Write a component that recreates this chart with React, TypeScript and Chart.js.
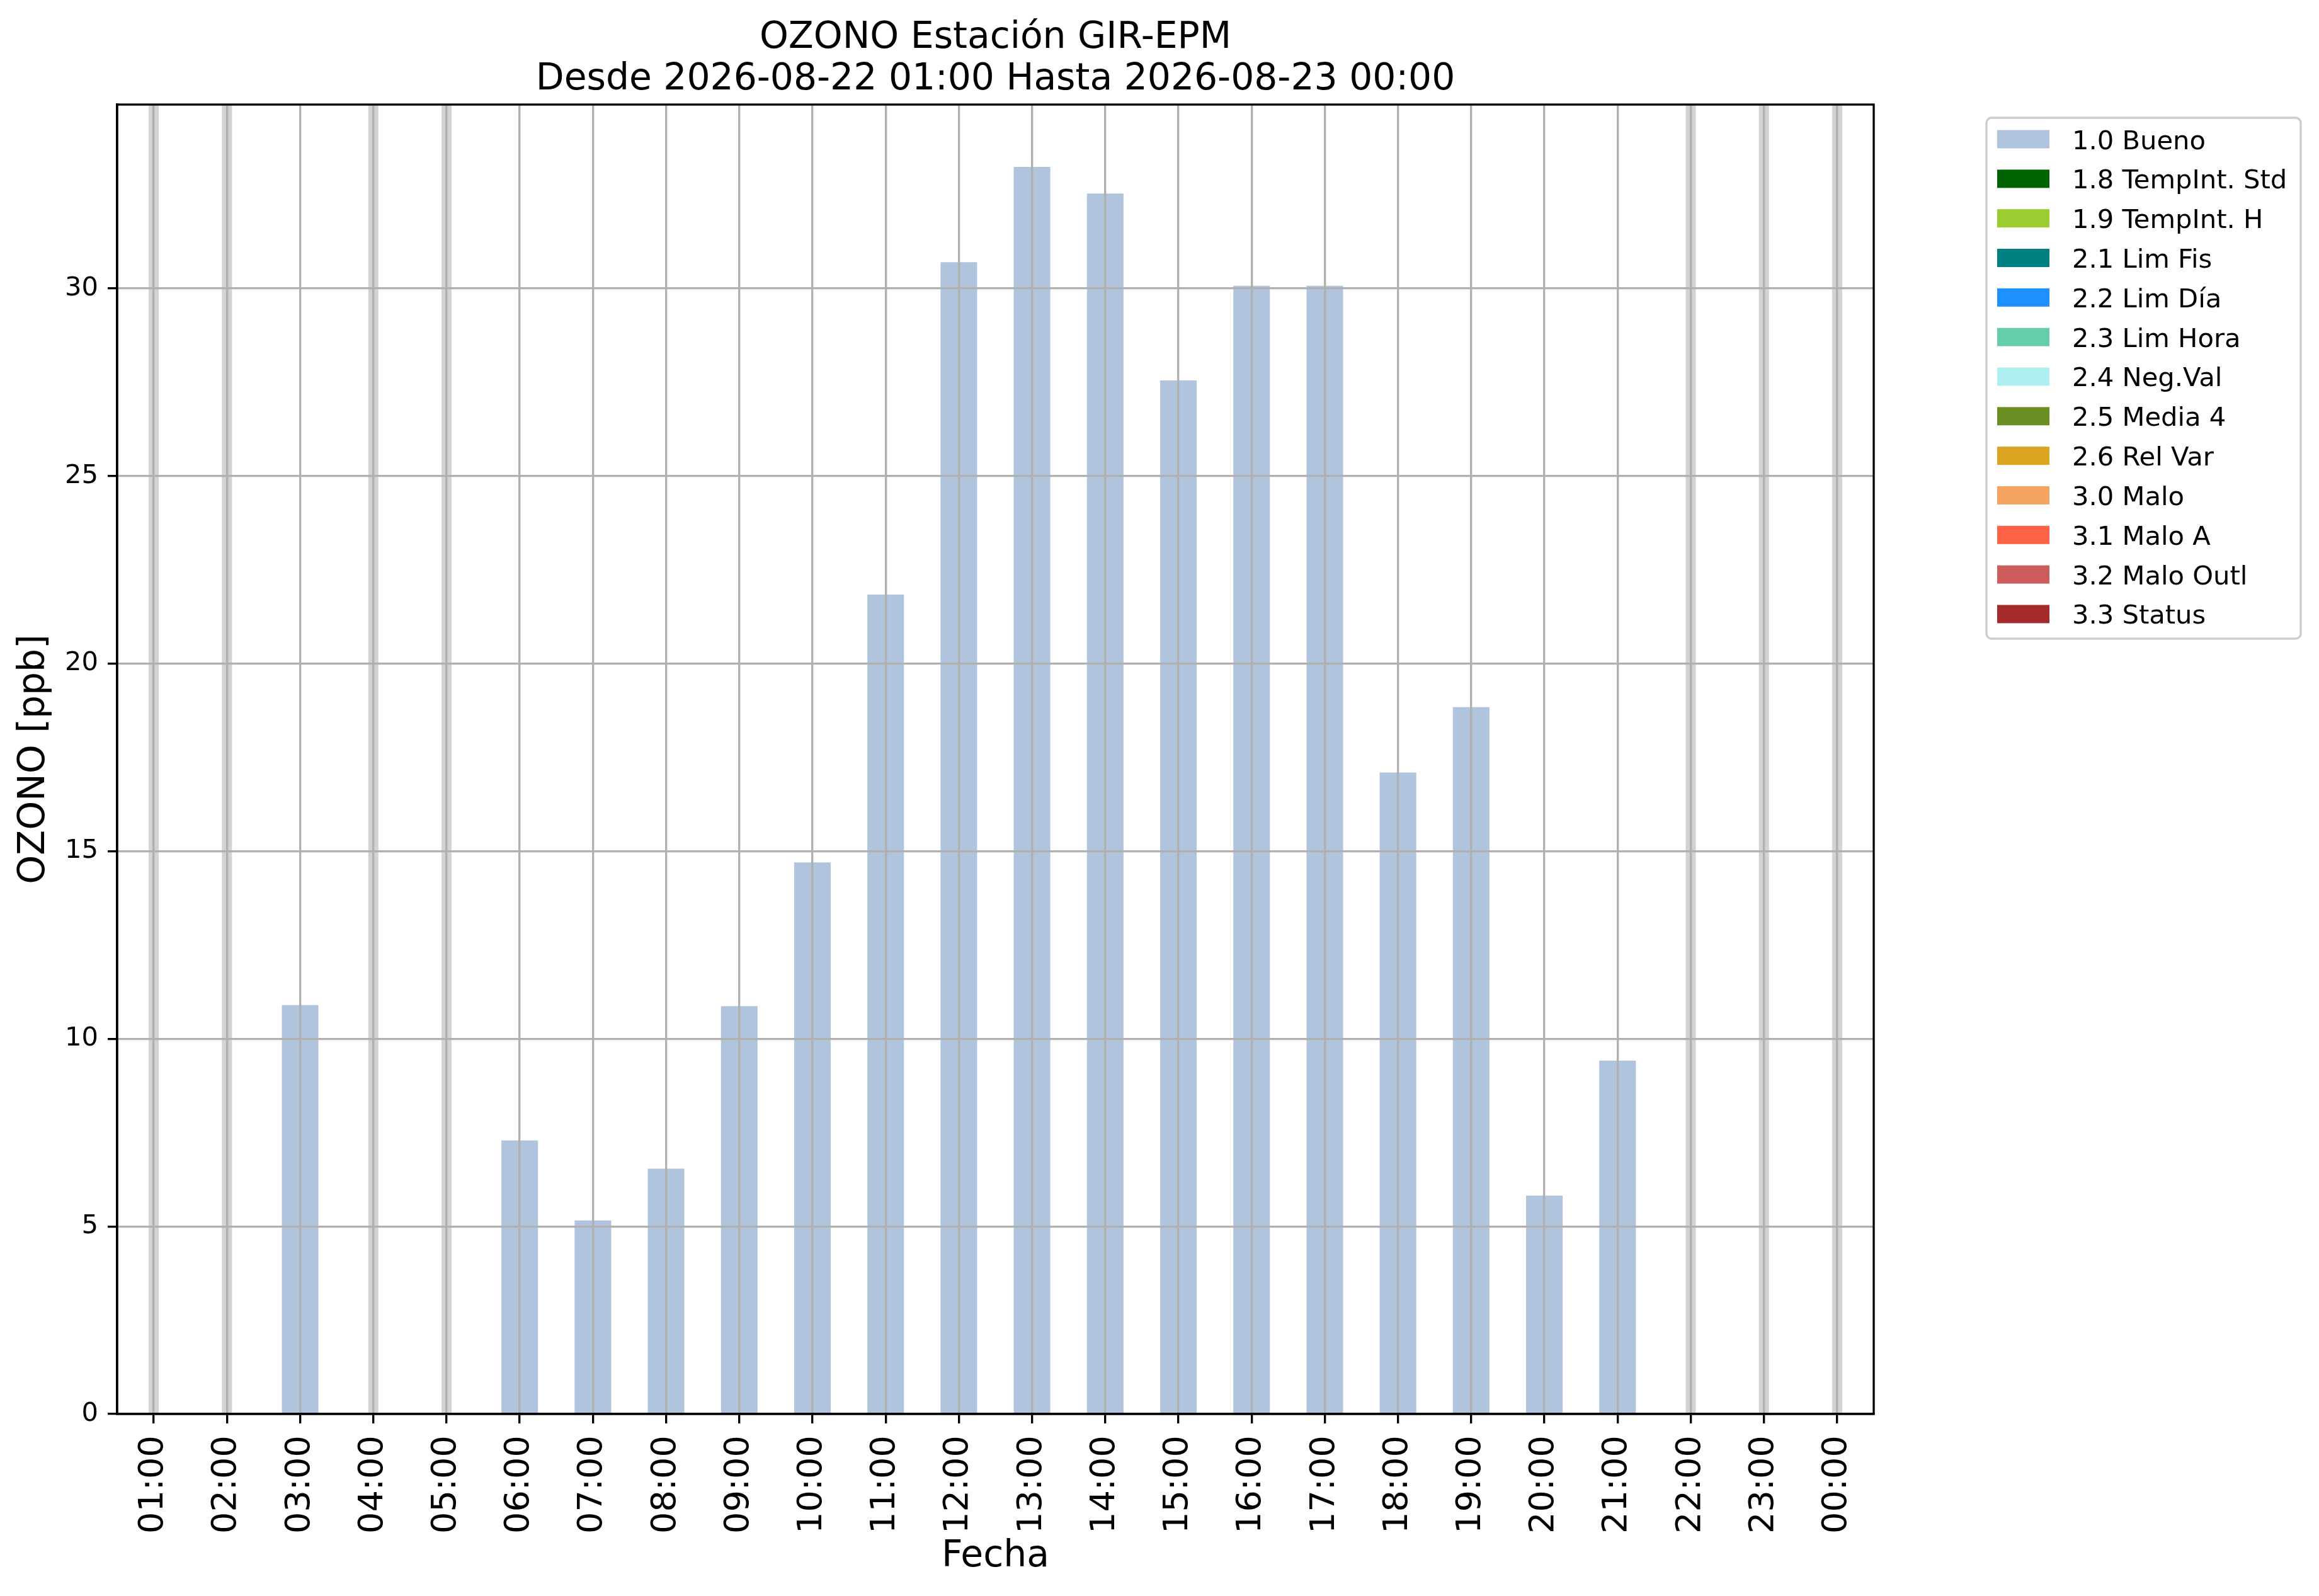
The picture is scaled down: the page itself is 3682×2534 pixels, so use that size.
import React, { useEffect, useRef } from "react";
import { Chart, registerables } from "chart.js";

Chart.register(...registerables);

// ---------------- data ----------------
const HOURS = [
  "01:00", "02:00", "03:00", "04:00", "05:00", "06:00", "07:00", "08:00",
  "09:00", "10:00", "11:00", "12:00", "13:00", "14:00", "15:00", "16:00",
  "17:00", "18:00", "19:00", "20:00", "21:00", "22:00", "23:00", "00:00",
];

const OZONE_PPB: (number | null)[] = [
  null, null, 10.9, null, null, 7.29, 5.16, 6.54,
  10.87, 14.7, 21.84, 30.7, 33.24, 32.53, 27.55, 30.07,
  30.07, 17.1, 18.84, 5.82, 9.42, null, null, null,
];

const QUALITY_LABELS = [
  "1.0 Bueno", "1.8 TempInt. Std", "1.9 TempInt. H", "2.1 Lim Fis",
  "2.2 Lim Día", "2.3 Lim Hora", "2.4 Neg.Val", "2.5 Media 4",
  "2.6 Rel Var", "3.0 Malo", "3.1 Malo A", "3.2 Malo Outl", "3.3 Status",
];

const QUALITY_COLORS = [
  "#b0c4de", "#006400", "#9acd32", "#008080",
  "#1e90ff", "#66cdaa", "#afeeee", "#6b8e23",
  "#daa520", "#f4a460", "#ff6347", "#cd5c5c", "#a52a2a",
];

const MISSING_LABEL = "Sin dato";
const MISSING_COLOR = "#d3d3d3";

const TITLE_LINES = [
  "OZONO Estación GIR-EPM",
  "Desde 2026-08-22 01:00 Hasta 2026-08-23 00:00",
];
const Y_TITLE = "OZONO [ppb]";
const X_TITLE = "Fecha";
const Y_TICK_STEP = 5;

// ---------------- style ----------------
const FONT = "DejaVu Sans";
const W = 3682;
const H = 2534;
const LW = 3.33;
const GRID = "#b0b0b0";

const titlePlugin = {
  id: "mplTitle",
  afterDraw(chart: any) {
    const { ctx, chartArea } = chart;
    const cx = (chartArea.left + chartArea.right) / 2;
    ctx.save();
    ctx.fillStyle = "#000";
    ctx.font = `58.33px "${FONT}"`;
    ctx.textAlign = "center";
    ctx.textBaseline = "alphabetic";
    TITLE_LINES.forEach((line, i) => {
      ctx.fillText(line, cx, chartArea.top - 90 + i * 66);
    });
    ctx.restore();
  },
};

const framePlugin = {
  id: "mplFrame",
  afterDraw(chart: any) {
    const { ctx, chartArea } = chart;
    ctx.save();
    ctx.strokeStyle = "#000";
    ctx.lineWidth = LW;
    ctx.strokeRect(
      chartArea.left,
      chartArea.top,
      chartArea.right - chartArea.left,
      chartArea.bottom - chartArea.top
    );
    ctx.restore();
  },
};

const legendPlugin = {
  id: "mplLegend",
  afterDraw(chart: any) {
    const { ctx, chartArea } = chart;
    const x0 = chartArea.right + 179;
    const y0 = chartArea.top + 21;
    const bw = 499;
    const bh = 827;
    const r = 8;
    ctx.save();
    ctx.beginPath();
    ctx.moveTo(x0 + r, y0);
    ctx.lineTo(x0 + bw - r, y0);
    ctx.arcTo(x0 + bw, y0, x0 + bw, y0 + r, r);
    ctx.lineTo(x0 + bw, y0 + bh - r);
    ctx.arcTo(x0 + bw, y0 + bh, x0 + bw - r, y0 + bh, r);
    ctx.lineTo(x0 + r, y0 + bh);
    ctx.arcTo(x0, y0 + bh, x0, y0 + bh - r, r);
    ctx.lineTo(x0, y0 + r);
    ctx.arcTo(x0, y0, x0 + r, y0, r);
    ctx.closePath();
    ctx.fillStyle = "rgba(255,255,255,0.8)";
    ctx.fill();
    ctx.strokeStyle = "#cccccc";
    ctx.lineWidth = LW;
    ctx.stroke();

    ctx.font = `41.67px "${FONT}"`;
    ctx.textAlign = "left";
    ctx.textBaseline = "alphabetic";
    const items = chart.data.datasets.filter((d: any) => d.inLegend);
    items.forEach((ds: any, i: number) => {
      const cy = y0 + 34 + i * 62.83;
      ctx.fillStyle = ds.backgroundColor;
      ctx.fillRect(x0 + 17, cy - 14.5, 83, 29);
      ctx.fillStyle = "#000";
      ctx.fillText(ds.label, x0 + 136, cy + 15.5);
    });
    ctx.restore();
  },
};

export default function App() {
  const canvasRef = useRef<HTMLCanvasElement | null>(null);

  useEffect(() => {
    const canvas = canvasRef.current;
    if (!canvas) return;

    const present = OZONE_PPB.filter((v): v is number => v != null);
    const yMax = Math.max(...present) * 1.05;

    const qualityDatasets = QUALITY_LABELS.map((label, i) => ({
      label,
      data: i === 0 ? OZONE_PPB : HOURS.map(() => null),
      backgroundColor: QUALITY_COLORS[i],
      borderWidth: 0,
      grouped: false,
      categoryPercentage: 1,
      barPercentage: 0.5,
      inLegend: true,
    }));

    const missingDataset = {
      label: MISSING_LABEL,
      data: OZONE_PPB.map((v) => (v == null ? yMax : null)),
      backgroundColor: MISSING_COLOR,
      borderWidth: 0,
      grouped: false,
      categoryPercentage: 1,
      barPercentage: 0.138,
      inLegend: false,
    };

    const chart = new Chart(canvas, {
      type: "bar",
      data: {
        labels: HOURS,
        datasets: [...qualityDatasets, missingDataset] as any,
      },
      options: {
        animation: false,
        responsive: false,
        devicePixelRatio: 1,
        layout: { padding: { top: 166, right: 707, left: 0, bottom: 0 } },
        plugins: {
          legend: { display: false },
          tooltip: { enabled: false },
          title: { display: false },
        },
        scales: {
          x: {
            offset: true,
            grid: {
              offset: false,
              z: 1,
              color: GRID,
              lineWidth: LW,
              drawTicks: true,
              tickLength: 15,
              tickColor: "#000",
              tickWidth: LW,
            },
            border: { display: true, color: "#000", width: LW, z: 2 },
            ticks: {
              z: 2,
              autoSkip: false,
              maxRotation: 90,
              minRotation: 90,
              padding: 19,
              color: "#000",
              font: { family: FONT, size: 54.17 },
            },
            title: {
              display: true,
              text: X_TITLE,
              color: "#000",
              font: { family: FONT, size: 58.33, lineHeight: 1.2 },
              padding: { top: 0, bottom: 27 },
            },
            afterFit: (scale: any) => {
              scale.height = 289;
            },
          },
          y: {
            min: 0,
            max: yMax,
            grid: {
              z: 1,
              color: GRID,
              lineWidth: LW,
              drawTicks: true,
              tickLength: 15,
              tickColor: "#000",
              tickWidth: LW,
            },
            border: { display: true, color: "#000", width: LW, z: 2 },
            ticks: {
              z: 2,
              stepSize: Y_TICK_STEP,
              includeBounds: false,
              padding: 15,
              color: "#000",
              font: { family: FONT, size: 41.67 },
            },
            title: {
              display: true,
              text: Y_TITLE,
              color: "#000",
              font: { family: FONT, size: 58.33, lineHeight: 1.2 },
              padding: { top: 20, bottom: 0 },
            },
            afterFit: (scale: any) => {
              scale.width = 186;
            },
          },
        },
      } as any,
      plugins: [titlePlugin, framePlugin, legendPlugin],
    });

    return () => chart.destroy();
  }, []);

  return (
    <div
      style={{
        position: "fixed",
        left: 0,
        top: 0,
        width: W,
        height: H,
        background: "#fff",
      }}
    >
      <canvas
        ref={canvasRef}
        width={W}
        height={H}
        style={{ width: W, height: H, display: "block" }}
      />
    </div>
  );
}
